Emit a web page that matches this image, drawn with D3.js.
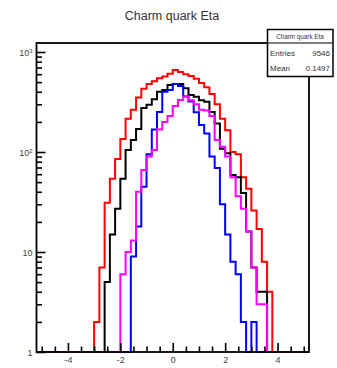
<!DOCTYPE html>
<html>
<head>
<meta charset="utf-8">
<script src="https://cdn.jsdelivr.net/npm/d3@7"></script>
<style>
  body { margin: 0; background: #fff; }
  text { font-family: "Liberation Sans", Arial, sans-serif; }
</style>
</head>
<body>
<script>
// histogram binning: 52 bins of 0.2 between -5.2 and 5.2
const etaMin = -5.2, etaMax = 5.2, nBins = 52;

// bin contents, left to right
const redCounts = [0,0,0,0,0,0,0,0,0,0,0,
  2,7,31,54,85,135,215,265,350,430,480,510,545,570,605,660,630,600,575,540,490,445,380,300,215,165,100,95,56,43,26,17,8,4,
  0,0,0,0,0,0,0];
const blackCounts = [0,0,0,0,0,0,0,0,0,0,0,0,0,
  5,15,27,54,105,132,170,276,297,337,400,417,467,479,479,434,372,357,330,318,251,193,108,97,59,56,39,16,7,4,4,
  0,0,0,0,0,0,0,0];
const blueCounts = [0,0,0,0,0,0,0,0,0,0,0,0,0,0,0,0,0,0,
  9,18,45,95,168,251,400,417,479,457,358,320,250,186,153,90,69,30,15,8,6,2,0,2,
  0,0,0,0,0,0,0,0,0,0];
const magentaCounts = [0,0,0,0,0,0,0,0,0,0,0,0,0,0,0,0,
  6,10,13,40,66,90,105,168,200,229,288,331,358,330,300,265,260,229,132,113,90,56,36,27,16,7,3,3,
  0,0,0,0,0,0,0,0];

const series = [
  { counts: redCounts, color: '#ff0000' },
  { counts: blackCounts, color: '#000000' },
  { counts: blueCounts, color: '#0000ff' },
  { counts: magentaCounts, color: '#ff00ff' }
];

const xMajor = [-4, -2, 0, 2, 4];
const xMinor = [-5, -4.5, -3.5, -3, -2.5, -1.5, -1, -0.5, 0.5, 1, 1.5, 2.5, 3, 3.5, 4.5, 5];
const yMajor = [1, 10, 100, 1000];
const yMinor = [2,3,4,5,6,7,8,9, 20,30,40,50,60,70,80,90, 200,300,400,500,600,700,800,900];

const titleText = 'Charm quark Eta';
const statsName = 'Charm quark Eta';
const statsEntries = '9546';
const statsMean = '0.1497';

const svgWidth = 337, svgHeight = 368;
const plotLeft = 36.5, plotRight = 309, plotTop = 43, plotBottom = 352;

const svg = d3.select('body')
  .append('svg')
  .attr('width', svgWidth)
  .attr('height', svgHeight);

const xScale = d3.scaleLinear()
  .domain([etaMin, etaMax])
  .range([plotLeft, plotRight]);

const yScale = d3.scaleLog()
  .domain([1, Math.pow(10, 3.09)])
  .range([plotBottom, plotTop]);

const binWidth = (etaMax - etaMin) / nBins;

svg.append('clipPath').attr('id', 'frame')
  .append('rect')
  .attr('x', plotLeft).attr('y', plotTop - 1)
  .attr('width', plotRight - plotLeft).attr('height', plotBottom - plotTop + 2);

const line = d3.line()
  .x(d => xScale(d[0]))
  .y(d => yScale(Math.max(d[1], 1)))
  .curve(d3.curveStepAfter);

series.forEach(s => {
  const pts = s.counts.map((c, i) => [etaMin + i * binWidth, c]);
  pts.push([etaMax, s.counts[nBins - 1]]);
  svg.append('path')
    .attr('d', line(pts))
    .attr('clip-path', 'url(#frame)')
    .attr('fill', 'none')
    .attr('stroke', s.color)
    .attr('stroke-width', 2);
});

// axes, ticks pointing inwards like ROOT
const yAxis = d3.axisLeft(yScale).tickValues(yMajor).tickSize(-9).tickPadding(4)
  .tickFormat(d => '');
const yAxisG = svg.append('g')
  .attr('transform', `translate(${plotLeft},0)`)
  .call(yAxis);
yAxisG.select('.domain').remove();
yAxisG.selectAll('.tick line').attr('stroke-width', 1.6);

yAxisG.selectAll('.tick').each(function(d) {
  const t = d3.select(this).select('text')
    .attr('fill', '#444').attr('font-size', 9).attr('dy', '0.35em');
  if (d === 1) {
    t.text('1');
  } else if (d === 10) {
    t.text('10');
  } else {
    t.append('tspan').text('10');
    t.append('tspan').attr('font-size', 6).attr('dy', '-0.5em')
      .text(String(Math.round(Math.log10(d))));
  }
});

const yMinorG = svg.append('g')
  .attr('transform', `translate(${plotLeft},0)`)
  .call(d3.axisLeft(yScale).tickValues(yMinor).tickSize(-5.5).tickFormat(''));
yMinorG.select('.domain').remove();
yMinorG.selectAll('.tick line').attr('stroke-width', 1.6);

const xAxisG = svg.append('g')
  .attr('transform', `translate(0,${plotBottom})`)
  .call(d3.axisBottom(xScale).tickValues(xMajor).tickSize(-9).tickPadding(5)
    .tickFormat(d => String(d)));
xAxisG.select('.domain').remove();
xAxisG.selectAll('.tick line').attr('stroke-width', 1.6);
xAxisG.selectAll('.tick text').attr('fill', '#444').attr('font-size', 9);

const xMinorG = svg.append('g')
  .attr('transform', `translate(0,${plotBottom})`)
  .call(d3.axisBottom(xScale).tickValues(xMinor).tickSize(-5.5).tickFormat(''));
xMinorG.select('.domain').remove();
xMinorG.selectAll('.tick line').attr('stroke-width', 1.6);

// frame
svg.append('rect')
  .attr('x', plotLeft).attr('y', plotTop)
  .attr('width', plotRight - plotLeft).attr('height', plotBottom - plotTop)
  .attr('fill', 'none')
  .attr('stroke', '#000')
  .attr('stroke-width', 1.8);

// title
svg.append('text')
  .attr('x', 172).attr('y', 20)
  .attr('text-anchor', 'middle')
  .attr('font-size', 12.5)
  .attr('fill', '#333')
  .text(titleText);

// stats box
const box = svg.append('g');
box.append('rect')
  .attr('x', 267.5).attr('y', 29.5)
  .attr('width', 65.5).attr('height', 47)
  .attr('fill', '#fff')
  .attr('stroke', '#000')
  .attr('stroke-width', 1.5);
box.append('line')
  .attr('x1', 267.5).attr('x2', 333)
  .attr('y1', 43).attr('y2', 43)
  .attr('stroke', '#000').attr('stroke-width', 1.2);
box.append('text')
  .attr('x', 300).attr('y', 39)
  .attr('text-anchor', 'middle')
  .attr('font-size', 6.3)
  .attr('fill', '#333')
  .text(statsName);
box.append('text').attr('x', 270).attr('y', 55.5)
  .attr('font-size', 8).attr('fill', '#333').text('Entries');
box.append('text').attr('x', 330).attr('y', 55.5).attr('text-anchor', 'end')
  .attr('font-size', 8).attr('fill', '#333').text(statsEntries);
box.append('text').attr('x', 270).attr('y', 70.5)
  .attr('font-size', 8).attr('fill', '#333').text('Mean');
box.append('text').attr('x', 330).attr('y', 70.5).attr('text-anchor', 'end')
  .attr('font-size', 8).attr('fill', '#333').text(statsMean);
</script>
</body>
</html>
